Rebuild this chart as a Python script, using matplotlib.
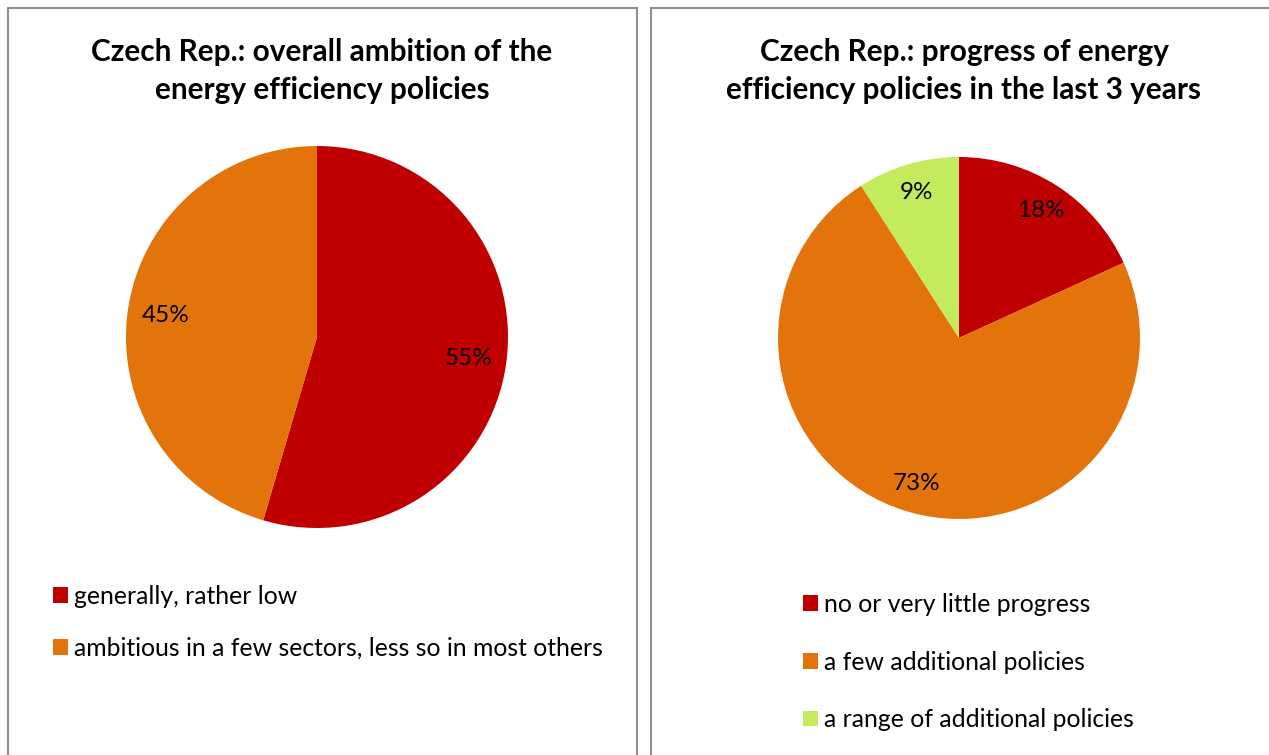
import matplotlib
matplotlib.use('Agg')
import matplotlib.pyplot as plt
from matplotlib.patches import Rectangle

plt.rcParams['font.family'] = ['Lato', 'DejaVu Sans']

# survey answers (counts out of 11 respondents)
ambition_labels = ['generally, rather low', 'ambitious in a few sectors, less so in most others']
ambition_counts = [6, 5]
progress_labels = ['no or very little progress', 'a few additional policies', 'a range of additional policies']
progress_counts = [2, 8, 1]

red = '#C00000'
orange = '#E3740C'
green = '#C3EB5D'

W, H = 1269, 755
fig = plt.figure(figsize=(W / 100, H / 100), dpi=100)


def px_axes(cx, cy, r):
    return fig.add_axes([(cx - r) / W, 1 - (cy + r) / H, 2 * r / W, 2 * r / H])


# panel borders
for x0, x1 in [(8, 637), (651, 1290)]:
    fig.patches.append(Rectangle((x0 / W, -0.05), (x1 - x0) / W, 1.05 - 8 / H,
                                 transform=fig.transFigure, fill=False,
                                 edgecolor='#8E8E8E', linewidth=1.5))

# left pie
ax1 = px_axes(317, 337, 191)
w1, _, t1 = ax1.pie(ambition_counts, colors=[red, orange], startangle=90, counterclock=False,
                    autopct='%1.0f%%', pctdistance=0.8, wedgeprops=dict(linewidth=0),
                    textprops=dict(fontsize=17.5, color='black'))
ax1.set_xlim(-1, 1)
ax1.set_ylim(-1, 1)

# right pie
ax2 = px_axes(959, 338, 181)
w2, _, t2 = ax2.pie(progress_counts, colors=[red, orange, green], startangle=90, counterclock=False,
                    autopct='%1.0f%%', pctdistance=0.84, wedgeprops=dict(linewidth=0),
                    textprops=dict(fontsize=17.5, color='black'))
ax2.set_xlim(-1, 1)
ax2.set_ylim(-1, 1)

fig.text(322 / W, 1 - 71 / H, 'Czech Rep.: overall ambition of the\nenergy efficiency policies',
         ha='center', va='center', fontsize=21.4, fontweight='bold', linespacing=1.45)
fig.text(964 / W, 1 - 71 / H, 'Czech Rep.: progress of energy\nefficiency policies in the last 3 years',
         ha='center', va='center', fontsize=21.4, fontweight='bold', linespacing=1.45)

fig.legend(w1, ambition_labels, loc='upper left', bbox_to_anchor=(53 / W, 1 - 585 / H),
           frameon=False, fontsize=17.8, handlelength=0.6, handleheight=0.6,
           handletextpad=0.24, labelspacing=1.17, borderpad=0, borderaxespad=0)
fig.legend(w2, progress_labels, loc='upper left', bbox_to_anchor=(803 / W, 1 - 593 / H),
           frameon=False, fontsize=17.8, handlelength=0.6, handleheight=0.6,
           handletextpad=0.24, labelspacing=1.4, borderpad=0, borderaxespad=0)

fig.savefig('out.png', dpi=100)
